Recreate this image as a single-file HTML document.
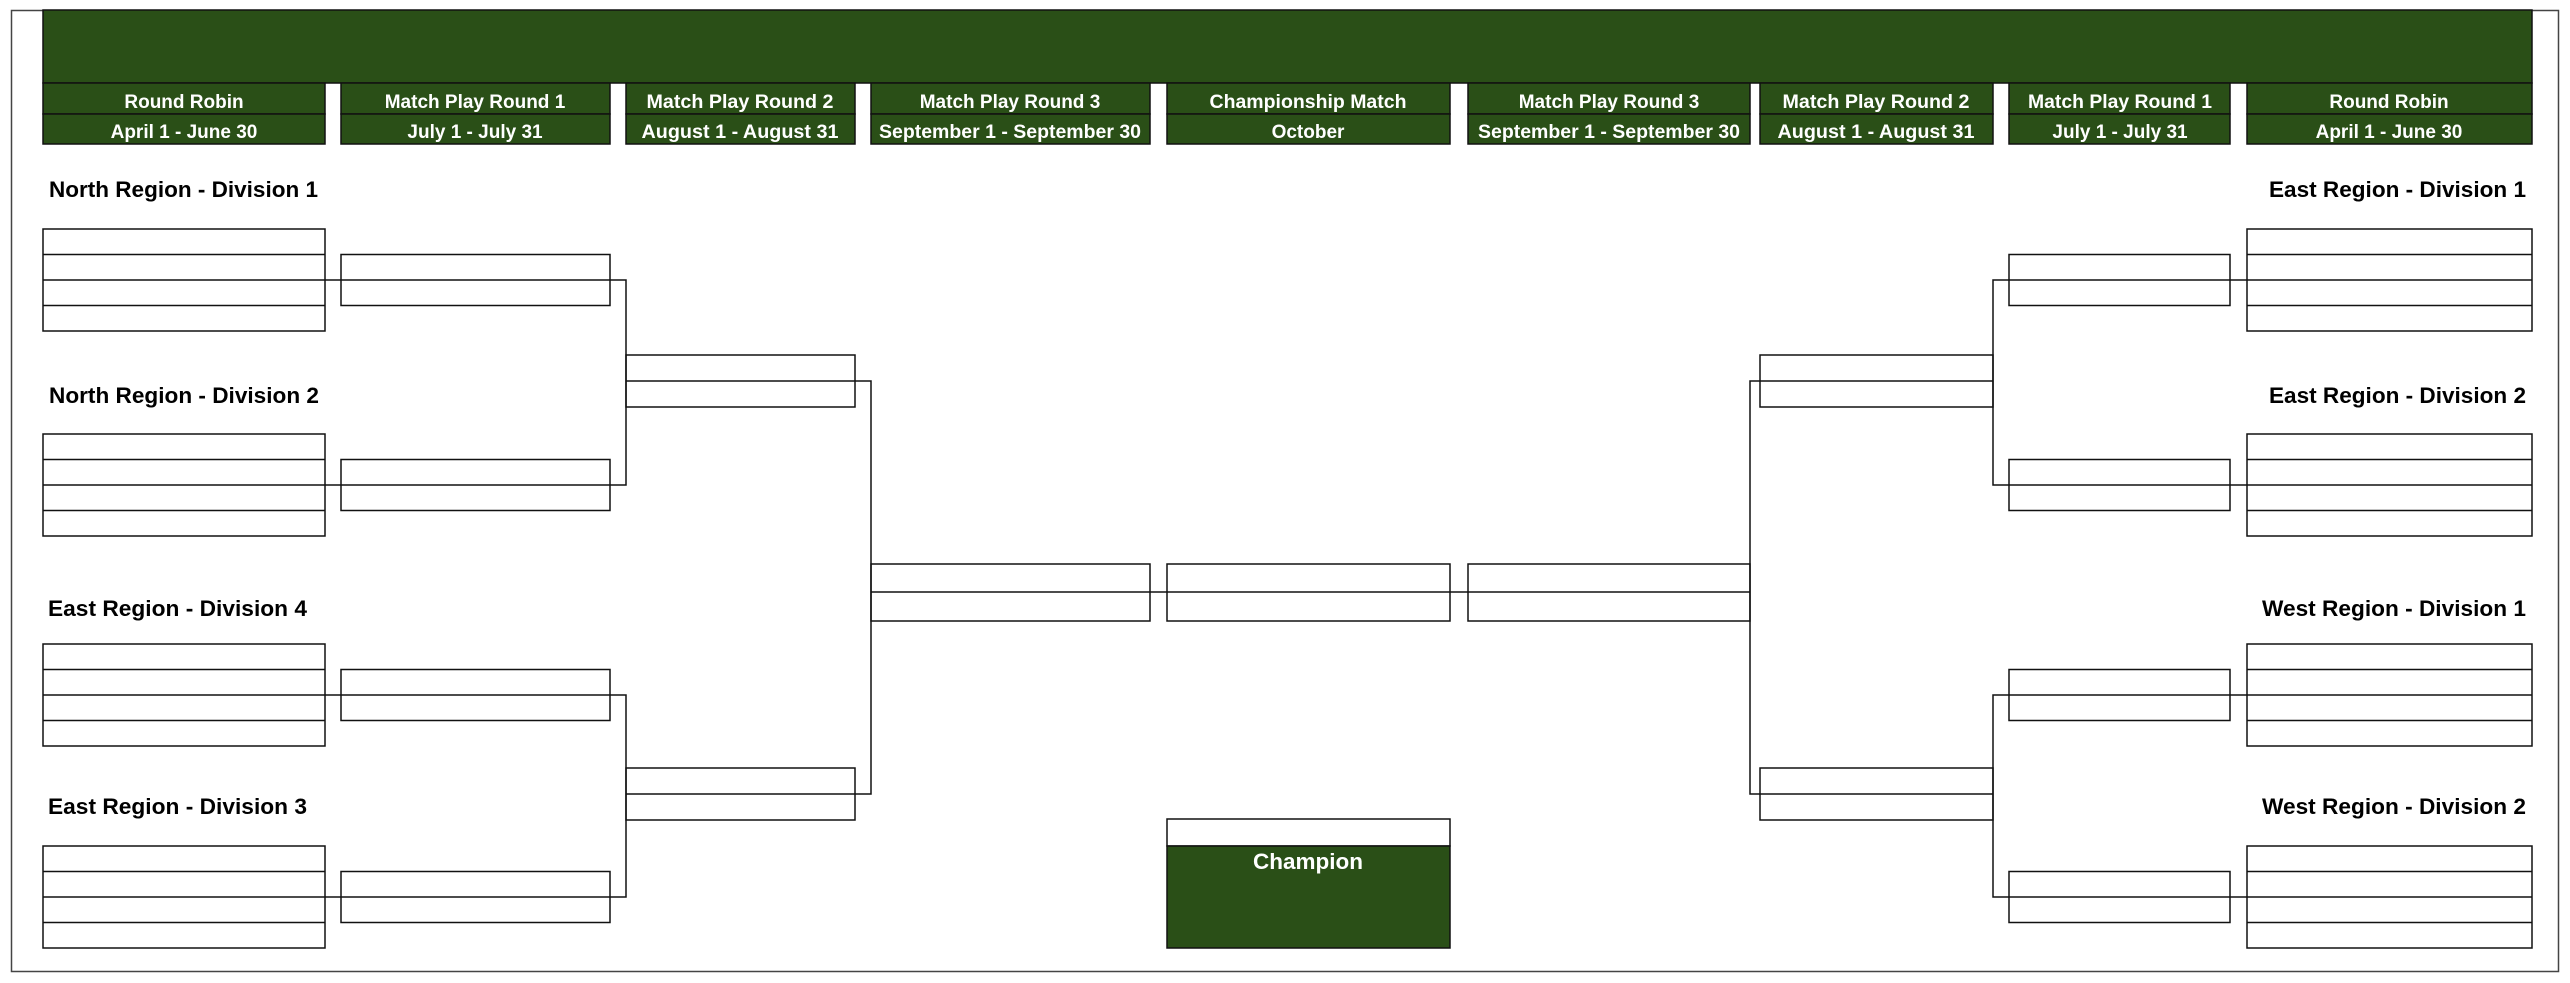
<!DOCTYPE html>
<html><head><meta charset="utf-8"><style>
html,body{margin:0;padding:0;background:#fff;width:2570px;height:983px;overflow:hidden}
svg{display:block}
text{font-family:"Liberation Sans",Arial,sans-serif;font-weight:bold}
.h{fill:#fff;font-size:19px;text-anchor:middle}
.d{fill:#000;font-size:22px}
</style></head><body>
<svg width="2570" height="983" viewBox="0 0 2570 983" xmlns="http://www.w3.org/2000/svg">
<rect x="11.5" y="10.5" width="2547" height="961" fill="none" stroke="#444" stroke-width="1.5"/>
<rect x="43" y="10" width="2489" height="73" fill="#2a4f17" stroke="#111" stroke-width="1.5"/>
<g fill="#2a4f17" stroke="#111" stroke-width="1.5">
<rect x="43" y="83" width="282" height="31"/><rect x="43" y="114" width="282" height="30"/>
<rect x="341" y="83" width="269" height="31"/><rect x="341" y="114" width="269" height="30"/>
<rect x="626" y="83" width="229" height="31"/><rect x="626" y="114" width="229" height="30"/>
<rect x="871" y="83" width="279" height="31"/><rect x="871" y="114" width="279" height="30"/>
<rect x="1167" y="83" width="283" height="31"/><rect x="1167" y="114" width="283" height="30"/>
<rect x="1468" y="83" width="282" height="31"/><rect x="1468" y="114" width="282" height="30"/>
<rect x="1760" y="83" width="233" height="31"/><rect x="1760" y="114" width="233" height="30"/>
<rect x="2009" y="83" width="221" height="31"/><rect x="2009" y="114" width="221" height="30"/>
<rect x="2247" y="83" width="285" height="31"/><rect x="2247" y="114" width="285" height="30"/>
</g>
<g class="h">
<text class="h" x="184" y="108">Round Robin</text><text class="h" x="184" y="138">April 1 - June 30</text>
<text class="h" x="475" y="108">Match Play Round 1</text><text class="h" x="475" y="138">July 1 - July 31</text>
<text class="h" x="740" y="108" textLength="187" lengthAdjust="spacingAndGlyphs">Match Play Round 2</text><text class="h" x="740" y="138" textLength="197" lengthAdjust="spacingAndGlyphs">August 1 - August 31</text>
<text class="h" x="1010" y="108">Match Play Round 3</text><text class="h" x="1010" y="138" textLength="262" lengthAdjust="spacingAndGlyphs">September 1 - September 30</text>
<text class="h" x="1308" y="108" textLength="197" lengthAdjust="spacingAndGlyphs">Championship Match</text><text class="h" x="1308" y="138">October</text>
<text class="h" x="1609" y="108">Match Play Round 3</text><text class="h" x="1609" y="138" textLength="262" lengthAdjust="spacingAndGlyphs">September 1 - September 30</text>
<text class="h" x="1876" y="108" textLength="187" lengthAdjust="spacingAndGlyphs">Match Play Round 2</text><text class="h" x="1876" y="138" textLength="197" lengthAdjust="spacingAndGlyphs">August 1 - August 31</text>
<text class="h" x="2120" y="108" textLength="184" lengthAdjust="spacingAndGlyphs">Match Play Round 1</text><text class="h" x="2120" y="138">July 1 - July 31</text>
<text class="h" x="2389" y="108">Round Robin</text><text class="h" x="2389" y="138">April 1 - June 30</text>
</g>
<g>
<text class="d" x="49" y="197" textLength="269" lengthAdjust="spacingAndGlyphs">North Region - Division 1</text>
<text class="d" x="49" y="403" textLength="270" lengthAdjust="spacingAndGlyphs">North Region - Division 2</text>
<text class="d" x="48" y="616" textLength="259" lengthAdjust="spacingAndGlyphs">East Region - Division 4</text>
<text class="d" x="48" y="814" textLength="259" lengthAdjust="spacingAndGlyphs">East Region - Division 3</text>
<text class="d" x="2269" y="197" textLength="257" lengthAdjust="spacingAndGlyphs">East Region - Division 1</text>
<text class="d" x="2269" y="403" textLength="257" lengthAdjust="spacingAndGlyphs">East Region - Division 2</text>
<text class="d" x="2262" y="616" textLength="264" lengthAdjust="spacingAndGlyphs">West Region - Division 1</text>
<text class="d" x="2262" y="814" textLength="264" lengthAdjust="spacingAndGlyphs">West Region - Division 2</text>
</g>
<g fill="none" stroke="#111" stroke-width="1.5">
<!-- left RR groups -->
<rect x="43" y="229" width="282" height="102"/><path d="M43 254.5H325M43 280H325M43 305.5H325"/>
<rect x="43" y="434" width="282" height="102"/><path d="M43 459.5H325M43 485H325M43 510.5H325"/>
<rect x="43" y="644" width="282" height="102"/><path d="M43 669.5H325M43 695H325M43 720.5H325"/>
<rect x="43" y="846" width="282" height="102"/><path d="M43 871.5H325M43 897H325M43 922.5H325"/>
<!-- right RR groups -->
<rect x="2247" y="229" width="285" height="102"/><path d="M2247 254.5H2532M2247 280H2532M2247 305.5H2532"/>
<rect x="2247" y="434" width="285" height="102"/><path d="M2247 459.5H2532M2247 485H2532M2247 510.5H2532"/>
<rect x="2247" y="644" width="285" height="102"/><path d="M2247 669.5H2532M2247 695H2532M2247 720.5H2532"/>
<rect x="2247" y="846" width="285" height="102"/><path d="M2247 871.5H2532M2247 897H2532M2247 922.5H2532"/>
<!-- left R1 -->
<rect x="341" y="254.5" width="269" height="51"/><rect x="341" y="459.5" width="269" height="51"/>
<rect x="341" y="669.5" width="269" height="51"/><rect x="341" y="871.5" width="269" height="51"/>
<path d="M325 280H626V485H325M325 695H626V897H325"/>
<!-- right R1 -->
<rect x="2009" y="254.5" width="221" height="51"/><rect x="2009" y="459.5" width="221" height="51"/>
<rect x="2009" y="669.5" width="221" height="51"/><rect x="2009" y="871.5" width="221" height="51"/>
<path d="M2247 280H1993V485H2247M2247 695H1993V897H2247"/>
<!-- left R2 -->
<rect x="626" y="355" width="229" height="52"/><rect x="626" y="768" width="229" height="52"/>
<path d="M626 381H871V794H626"/>
<!-- right R2 -->
<rect x="1760" y="355" width="233" height="52"/><rect x="1760" y="768" width="233" height="52"/>
<path d="M1993 381H1750V794H1993"/>
<!-- R3 and championship -->
<rect x="871" y="564" width="279" height="57"/>
<rect x="1167" y="564" width="283" height="57"/>
<rect x="1468" y="564" width="282" height="57"/>
<path d="M871 592H1750"/>
<!-- champion -->
<rect x="1167" y="819" width="283" height="27"/>
</g>
<rect x="1167" y="846" width="283" height="102" fill="#2a4f17" stroke="#111" stroke-width="1.5"/>
<text x="1308" y="869" fill="#fff" font-size="22" text-anchor="middle" textLength="110" lengthAdjust="spacingAndGlyphs">Champion</text>
</svg>
</body></html>
